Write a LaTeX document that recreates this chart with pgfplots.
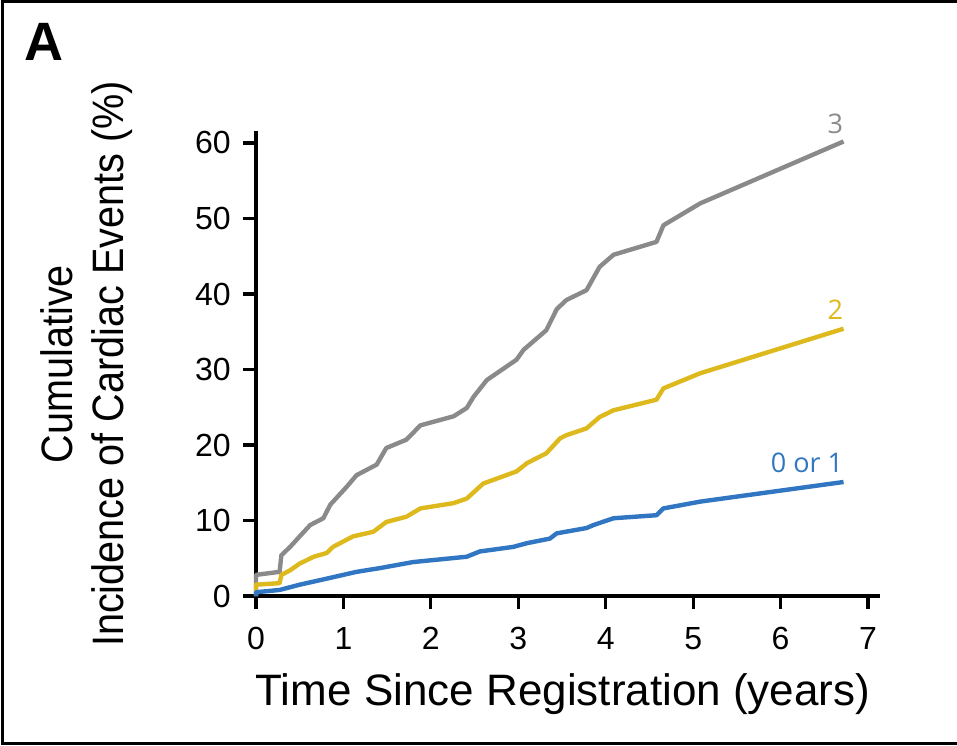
\documentclass[border=0pt]{standalone}
\usepackage{pgfplots}
\pgfplotsset{compat=1.18}
\usepackage{fontspec}
\setmainfont{Liberation Sans}
\newfontfamily\labfont[FakeStretch=0.9]{Liberation Sans}
\newfontfamily\curvefont{Open Sans}
\definecolor{cgray}{RGB}{138,138,138}
\definecolor{cyel}{RGB}{222,185,30}
\definecolor{cblue}{RGB}{48,118,194}
\begin{document}
\begin{tikzpicture}[x=0.5pt,y=0.5pt]
\useasboundingbox (0,0) rectangle (957,745);
\draw[line width=1.5pt] (957,743.5) -- (2,743.5) -- (2,1.5) -- (957,1.5);
\node[anchor=base west, inner sep=0pt, font=\bfseries\fontsize{27}{30}\selectfont] at (24,684) {A};
\node[anchor=base, inner sep=0pt, font=\fontsize{22}{26}\selectfont] at (563,40) {Time Since Registration (years)};
\node[anchor=base, rotate=90, inner sep=0pt, font=\labfont\fontsize{22}{26}\selectfont] at (72,381) {Cumulative};
\node[anchor=base, rotate=90, inner sep=0pt, font=\labfont\fontsize{22}{26}\selectfont] at (123,381) {Incidence of Cardiac Events (\%)};
\begin{axis}[
  at={(128pt,74.5pt)}, anchor=south west,
  scale only axis, width=312pt, height=232.25pt,
  xmin=0, xmax=7.137, ymin=0, ymax=61.52,
  axis lines=left,
  axis line style={line width=1.6pt, -},
  tick style={line width=1.6pt, black},
  major tick length=6.5pt, tick align=outside,
  xtick={0,1,...,7}, ytick={0,10,...,60},
  tick label style={font=\fontsize{16}{18}\selectfont},
  /pgf/number format/assume math mode=true,
  yticklabel style={inner sep=0pt, xshift=-6pt},
  xticklabel style={inner sep=0pt, yshift=-9pt},
  clip=false,
]
\addplot[cgray, line width=2.2pt, line join=round] coordinates {
(0,0) (0,2.8) (0.27,3.2) (0.29,5.4) (0.39,6.5) (0.50,7.9) (0.62,9.4) (0.77,10.3) (0.85,12.1) (1.04,14.5) (1.15,16.0) (1.38,17.4) (1.49,19.6) (1.72,20.7) (1.88,22.6) (2.26,23.8) (2.41,24.9) (2.49,26.4) (2.64,28.6) (2.98,31.3) (3.06,32.6) (3.32,35.2) (3.44,38.0) (3.55,39.2) (3.78,40.5) (3.93,43.6) (4.09,45.2) (4.58,46.9) (4.66,49.1) (5.08,52.0) (6.72,60.2)
};
\addplot[cyel, line width=2.2pt, line join=round] coordinates {
(0,0) (0,1.5) (0.27,1.7) (0.29,2.8) (0.39,3.4) (0.50,4.3) (0.66,5.2) (0.81,5.7) (0.88,6.5) (1.11,7.9) (1.34,8.5) (1.49,9.8) (1.72,10.5) (1.88,11.6) (2.26,12.3) (2.41,12.9) (2.60,14.9) (2.98,16.5) (3.10,17.6) (3.32,18.9) (3.48,20.9) (3.55,21.3) (3.78,22.2) (3.93,23.7) (4.09,24.6) (4.58,26.0) (4.66,27.5) (5.08,29.5) (6.72,35.4)
};
\addplot[cblue, line width=2.2pt, line join=round] coordinates {
(0,0) (0,0.5) (0.27,0.8) (0.50,1.5) (0.81,2.3) (1.15,3.2) (1.42,3.7) (1.80,4.5) (2.41,5.2) (2.56,5.9) (2.94,6.5) (3.10,7.0) (3.36,7.6) (3.44,8.3) (3.78,9.0) (3.86,9.4) (4.09,10.3) (4.58,10.7) (4.66,11.6) (5.08,12.5) (6.72,15.1)
};
\node[anchor=base east, inner sep=0pt, text=cgray, font=\curvefont\fontsize{13.5}{15}\selectfont] at (axis cs:6.72,61.3) {3};
\node[anchor=base east, inner sep=0pt, text=cyel, font=\curvefont\fontsize{13.5}{15}\selectfont] at (axis cs:6.72,36.6) {2};
\node[anchor=base east, inner sep=0pt, text=cblue, font=\curvefont\fontsize{13.5}{15}\selectfont] at (axis cs:6.72,16.3) {0 or 1};
\end{axis}
\end{tikzpicture}
\end{document}
